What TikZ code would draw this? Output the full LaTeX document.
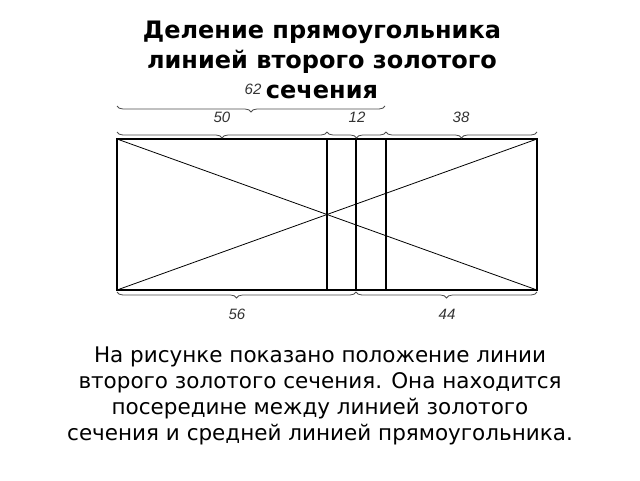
\documentclass[tikz,border=0pt]{standalone}
\usepackage{fontspec}
\setmainfont{DejaVu Sans}
\newfontfamily\numfont{Liberation Sans}
\usetikzlibrary{decorations.pathreplacing}
\tikzset{
  brc/.style={draw=black!70, line width=0.8pt, decorate, decoration={brace, amplitude=6pt}},
  brcm/.style={brc, decoration={brace, mirror, amplitude=6pt}},
  num/.style={font=\numfont\itshape\fontsize{15}{15}\selectfont, text=black!80, inner sep=0pt},
}
\begin{document}
\begin{tikzpicture}[x=1pt,y=-1pt]
\useasboundingbox (0,0) rectangle (640,480);
\node[font=\bfseries\fontsize{24}{30}\selectfont, align=center] (title) at (322,60) {Деление прямоугольника\\линией второго золотого\\сечения};
% rectangle corners
\coordinate (A) at (117,139);
\coordinate (B) at (537,139);
\coordinate (C) at (537,290);
\coordinate (D) at (117,290);
% golden, middle and second golden lines
\coordinate (g1t) at (327,139); \coordinate (g1b) at (327,290);
\coordinate (mt) at (356,139); \coordinate (mb) at (356,290);
\coordinate (g2t) at (386,139); \coordinate (g2b) at (386,290);
\draw[line width=0.8pt] (A) -- (C);
\draw[line width=0.8pt] (D) -- (B);
\draw[line width=1.3pt] (g1t) -- (g1b);
\draw[line width=2.2pt] (mt) -- (mb);
\draw[line width=1.8pt] (g2t) -- (g2b);
\draw[line width=2pt] (A) -- (B) -- (C) -- (D) -- cycle;
% braces
\coordinate (t0) at (117,106); \coordinate (t1) at (385,106);
\coordinate (u0) at (117,132); \coordinate (u1) at (327,132);
\coordinate (u2) at (386,132); \coordinate (u3) at (537,132);
\coordinate (b0) at (117,292); \coordinate (b1) at (356,292); \coordinate (b2) at (537,292);
\draw[brcm] (t0) -- (t1);
\draw[brcm] (u0) -- (u1);
\draw[brcm] (u1) -- (u2);
\draw[brcm] (u2) -- (u3);
\draw[brc] (b1) -- (b0);
\draw[brc] (b2) -- (b1);
\node[num] (n62) at (253,89) {62};
\node[num] (n50) at (222,117) {50};
\node[num] (n12) at (357,117) {12};
\node[num] (n38) at (461,117) {38};
\node[num] (n56) at (237,314) {56};
\node[num] (n44) at (447,314) {44};
\node[font=\fontsize{21.5}{26}\selectfont, align=center] (txt) at (320,396) {На рисунке показано положение линии\\второго золотого сечения. Она находится\\посередине между линией золотого\\сечения и средней линией прямоугольника.};
\end{tikzpicture}
\end{document}
